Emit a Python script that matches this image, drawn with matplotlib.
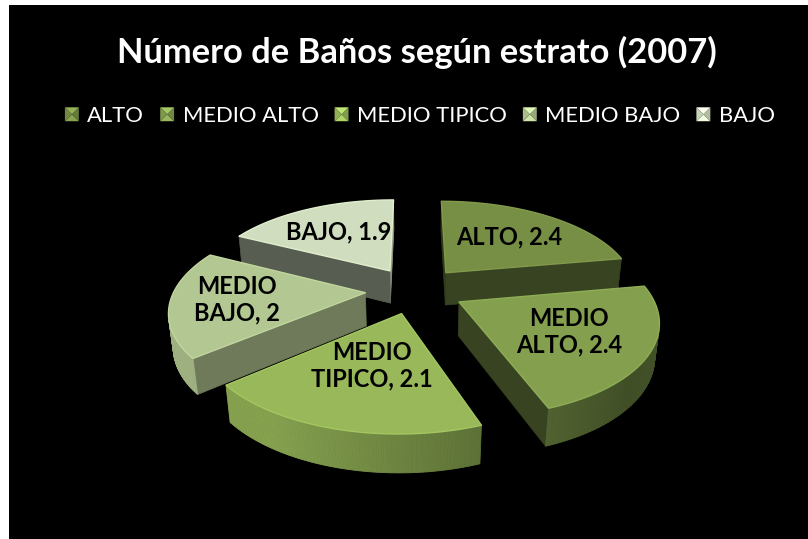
import numpy as np
import matplotlib
matplotlib.use("Agg")
import matplotlib.pyplot as plt
from matplotlib.patches import Polygon, Rectangle
from matplotlib.legend_handler import HandlerBase
from matplotlib.colors import to_rgb

# ---------------- data ----------------
categories = ["ALTO", "MEDIO ALTO", "MEDIO TIPICO", "MEDIO BAJO", "BAJO"]
values = [2.4, 2.4, 2.1, 2.0, 1.9]
colors = ["#778F45", "#84A04F", "#98B85A", "#B3C792", "#D0DDBF"]
title = "Número de Baños según estrato (2007)"

# ---------------- figure ----------------
W, H = 808, 539
fig = plt.figure(figsize=(W / 100, H / 100), dpi=100)
fig.patch.set_facecolor("white")
fig.add_artist(Rectangle((9 / W, 0), 1, 1 - 5 / H, transform=fig.transFigure,
                         facecolor="black", edgecolor="none", zorder=0))
ax = fig.add_axes([0, 0, 1, 1])
ax.set_xlim(0, W)
ax.set_ylim(H, 0)
ax.axis("off")
ax.patch.set_alpha(0)

# ---------------- 3D projection ----------------
CX, CY, S = 415, 290, 191
PHI = np.radians(28)
DIST = 5.0
EXPLODE = 0.26
THICK = 0.2
label_radius = [0.6, 0.6, 0.5, 0.66, 0.6]
cphi, sphi = np.cos(PHI), np.sin(PHI)
cam = np.array([0.0, -DIST * cphi, DIST * sphi])


def proj(X, Y, Z):
    X = np.asarray(X, float); Y = np.asarray(Y, float); Z = np.asarray(Z, float)
    depth = DIST + Y * cphi - Z * sphi
    u = X * DIST / depth
    v = (Y * sphi + Z * cphi) * DIST / depth
    return CX + S * u, CY - S * v


def shade(c, f):
    return tuple(np.clip(np.array(to_rgb(c)) * f, 0, 1))


def visible(normal, point):
    return np.dot(normal, cam - np.asarray(point)) > 0


total = sum(values)
start = 90.0
slices = []
for i, v in enumerate(values):
    sweep = 360.0 * v / total
    a2 = start
    a1 = start - sweep
    start = a1
    mid = np.radians((a1 + a2) / 2)
    ox, oy = EXPLODE * np.cos(mid), EXPLODE * np.sin(mid)
    slices.append(dict(i=i, a1=np.radians(a1), a2=np.radians(a2), mid=mid, ox=ox, oy=oy,
                       key=oy + 0.5 * np.sin(mid)))

slices.sort(key=lambda d: -d["key"])  # far first

for n, sl in enumerate(slices):
    i = sl["i"]
    col = colors[i]
    ox, oy, a1, a2 = sl["ox"], sl["oy"], sl["a1"], sl["a2"]
    z = 10 + 10 * n
    # radial walls
    for ang, nrm in ((a1, np.array([np.sin(a1), -np.cos(a1), 0])),
                     (a2, np.array([-np.sin(a2), np.cos(a2), 0]))):
        px = [ox, ox + np.cos(ang), ox + np.cos(ang), ox]
        py = [oy, oy + np.sin(ang), oy + np.sin(ang), oy]
        pz = [0, 0, -THICK, -THICK]
        midp = [ox + 0.5 * np.cos(ang), oy + 0.5 * np.sin(ang), -THICK / 2]
        if visible(nrm, midp):
            f = 0.42 + 0.3 * max(0.0, nrm[0])
            sx, sy = proj(px, py, pz)
            ax.add_patch(Polygon(np.column_stack([sx, sy]), closed=True,
                                 facecolor=shade(col, f), edgecolor=shade(col, f),
                                 linewidth=0.5, zorder=z))
    # outer wall
    th = np.linspace(a1, a2, 120)
    edge_x, edge_y = [], []
    for k in range(len(th) - 1):
        tm = 0.5 * (th[k] + th[k + 1])
        nrm = np.array([np.cos(tm), np.sin(tm), 0])
        P = [ox + np.cos(tm), oy + np.sin(tm), -THICK / 2]
        if not visible(nrm, P):
            continue
        f = float(np.clip(0.72 - 0.3 * nrm[0], 0.5, 0.88))
        xs = [ox + np.cos(th[k]), ox + np.cos(th[k + 1]), ox + np.cos(th[k + 1]), ox + np.cos(th[k])]
        ys = [oy + np.sin(th[k]), oy + np.sin(th[k + 1]), oy + np.sin(th[k + 1]), oy + np.sin(th[k])]
        zs = [0, 0, -THICK, -THICK]
        sx, sy = proj(xs, ys, zs)
        ax.add_patch(Polygon(np.column_stack([sx, sy]), closed=True,
                             facecolor=shade(col, f), edgecolor=shade(col, f),
                             linewidth=0.6, zorder=z + 1))
    # top face
    th = np.linspace(a1, a2, 200)
    xs = np.concatenate([[ox], ox + np.cos(th)])
    ys = np.concatenate([[oy], oy + np.sin(th)])
    sx, sy = proj(xs, ys, np.zeros_like(xs))
    ax.add_patch(Polygon(np.column_stack([sx, sy]), closed=True,
                         facecolor=col, edgecolor=shade(col, 1.08), linewidth=1.0,
                         joinstyle="round", zorder=z + 2))
    # label
    r = label_radius[i]
    lx, ly = proj(ox + r * np.cos(sl["mid"]), oy + r * np.sin(sl["mid"]), 0)
    txt = categories[i].replace(" ", "\n") + ", " + f"{values[i]:g}"
    ax.text(lx, ly, txt, ha="center", va="center", multialignment="center",
            fontsize=17, fontweight="bold", family="Lato", color="black",
            linespacing=1.15, zorder=200)

# ---------------- title ----------------
fig.text(417 / W, 1 - 52 / H, title, ha="center", va="center", color="white",
         fontsize=24.8, fontweight="bold", family="Lato")


# ---------------- legend ----------------
class PyramidHandler(HandlerBase):
    def create_artists(self, legend, orig_handle, xdescent, ydescent, width, height,
                       fontsize, trans):
        base = orig_handle.get_facecolor()
        s = height
        x0 = -xdescent + (width - s) / 2
        y0 = -ydescent
        c = (x0 + s / 2, y0 + s / 2)
        p0, p1, p2, p3 = (x0, y0), (x0 + s, y0), (x0 + s, y0 + s), (x0, y0 + s)
        tris = [((p0, p1, c), 1.15), ((p1, p2, c), 0.85), ((p2, p3, c), 1.25), ((p3, p0, c), 0.95)]
        arts = []
        for pts, f in tris:
            arts.append(Polygon(pts, closed=True, facecolor=shade(base, f),
                                edgecolor="none", transform=trans))
        return arts


handles = [Rectangle((0, 0), 1, 1, facecolor=c) for c in colors]
leg = fig.legend(handles, categories, loc="center", ncol=5,
                 bbox_to_anchor=(420 / W, 1 - 116 / H), frameon=False,
                 handler_map={Rectangle: PyramidHandler()},
                 prop={"family": "Lato", "size": 15.8},
                 handlelength=0.6, handleheight=0.6, handletextpad=0.4,
                 columnspacing=0.75, labelcolor="white")

fig.savefig("out.png", dpi=100, facecolor=fig.get_facecolor())
